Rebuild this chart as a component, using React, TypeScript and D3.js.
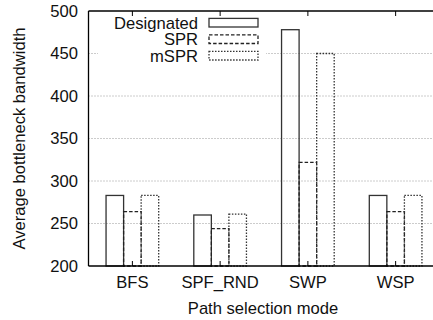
import * as d3 from "d3"

const categories = ["BFS", "SPF_RND", "SWP", "WSP"]
const seriesNames = ["Designated", "SPR", "mSPR"]
const designated = [283, 260, 478, 283]
const spr = [264, 244, 322, 264]
const mspr = [283, 261, 450, 283]
const yTicks = [200, 250, 300, 350, 400, 450, 500]

const W = 433
const H = 320
const left = 88.5
const right = 439.5
const top = 11
const bottom = 266
const font = "'Liberation Sans', Arial, Helvetica, sans-serif"
const fs = 16.6

const dashes = ["none", "3.5,2", "1.5,1.5"]
const strokes = ["#333", "#222", "#333"]

export default function App() {
  const values = [designated, spr, mspr]
  const x = d3.scaleBand<string>().domain(categories).range([left, right]).paddingInner(0.4).paddingOuter(0.2)
  const xs = d3.scaleBand<string>().domain(seriesNames).range([0, x.bandwidth()])
  const y = d3.scaleLinear().domain([200, 500]).range([bottom, top])
  const center = (c: string) => (x(c) ?? 0) + x.bandwidth() / 2

  return (
    <svg width={W} height={H} style={{ position: "absolute", left: 0, top: 0, fontFamily: font }}>
      <rect width={W} height={H} fill="white" />
      {/* grid */}
      {yTicks.slice(1, -1).map((t) => (
        <line key={t} x1={left} x2={W} y1={y(t)} y2={y(t)} stroke="#999" strokeDasharray="1,2" />
      ))}
      {/* legend background blanks the grid */}
      <rect x={98} y={13} width={168} height={52} fill="white" />
      {/* bars */}
      {categories.map((c, i) =>
        seriesNames.map((s, k) => {
          const bx = (x(c) ?? 0) + (xs(s) ?? 0)
          return (
            <rect
              key={c + s}
              x={bx}
              y={y(values[k][i])}
              width={xs.bandwidth()}
              height={bottom - y(values[k][i])}
              fill="none"
              stroke={strokes[k]}
              strokeWidth={1.3}
              strokeDasharray={dashes[k]}
            />
          )
        })
      )}
      {/* border */}
      <line x1={left} x2={W} y1={top} y2={top} stroke="#000" strokeWidth={1.3} />
      <line x1={left} x2={W} y1={bottom} y2={bottom} stroke="#000" strokeWidth={1.3} />
      <line x1={left} x2={left} y1={top} y2={bottom} stroke="#000" strokeWidth={1.3} />
      {categories.map((c) => (
        <g key={c}>
          <line x1={center(c)} x2={center(c)} y1={bottom} y2={bottom - 5} stroke="#000" />
          <line x1={center(c)} x2={center(c)} y1={top} y2={top + 5} stroke="#000" />
          <text x={center(c)} y={288} textAnchor="middle" fontSize={fs} fill="#111">
            {c}
          </text>
        </g>
      ))}
      {yTicks.map((t) => (
        <text key={t} x={78} y={y(t)} dy="0.36em" textAnchor="end" fontSize={fs} fill="#111">
          {t}
        </text>
      ))}
      {/* legend */}
      {seriesNames.map((s, k) => {
        const ly = 22.7 + k * 16.5
        return (
          <g key={s}>
            <text x={198} y={ly} dy="0.36em" textAnchor="end" fontSize={fs} fill="#111">
              {s}
            </text>
            <rect
              x={209}
              y={ly - 4.3}
              width={49}
              height={8.6}
              fill="none"
              stroke={strokes[k]}
              strokeWidth={1.3}
              strokeDasharray={dashes[k]}
            />
          </g>
        )
      })}
      <text x={263} y={314} textAnchor="middle" fontSize={fs} fill="#111">
        Path selection mode
      </text>
      <text
        transform={`translate(25,${(top + bottom) / 2}) rotate(-90)`}
        textAnchor="middle"
        fontSize={fs}
        fill="#111"
      >
        Average bottleneck bandwidth
      </text>
    </svg>
  )
}
